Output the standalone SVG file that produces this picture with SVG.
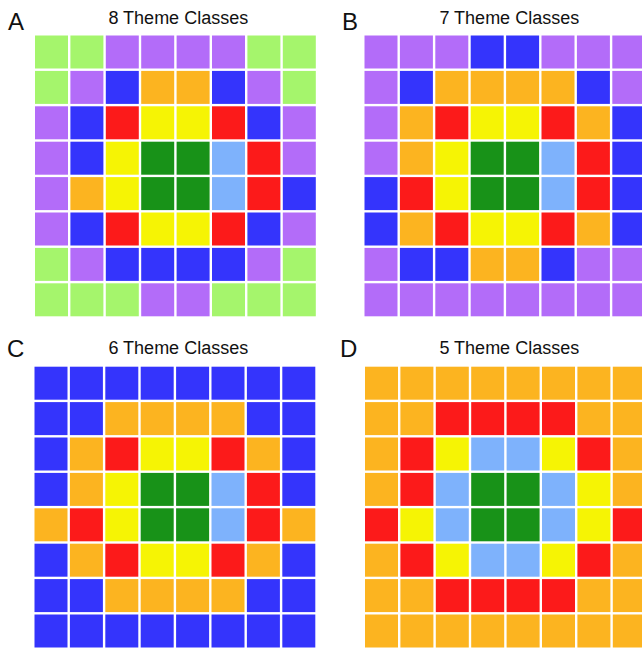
<svg xmlns="http://www.w3.org/2000/svg" width="642" height="648" viewBox="0 0 642 648">
<style>
.g{fill:#a5f56c}.p{fill:#b36cf9}.b{fill:#3434fc}.o{fill:#fcb420}.r{fill:#fc1a1a}.y{fill:#f6f404}.d{fill:#189218}.l{fill:#7eb2fc}
.lbl{font-family:"Liberation Sans",Arial,sans-serif;font-size:24px;fill:#111}
.ttl{font-family:"Liberation Sans",Arial,sans-serif;font-size:18px;fill:#111;text-anchor:middle}
</style>
<rect width="642" height="648" fill="#fff"/>
<g id="panelA">
<text class="lbl" x="8" y="30">A</text>
<text class="ttl" x="178.3" y="23.5">8 Theme Classes</text>
<g transform="translate(35,35.5)">
<rect class="g" x="0" y="0" width="33" height="33"/><rect class="g" x="35.4" y="0" width="33" height="33"/><rect class="p" x="70.8" y="0" width="33" height="33"/><rect class="p" x="106.2" y="0" width="33" height="33"/><rect class="p" x="141.6" y="0" width="33" height="33"/><rect class="p" x="177" y="0" width="33" height="33"/><rect class="g" x="212.4" y="0" width="33" height="33"/><rect class="g" x="247.8" y="0" width="33" height="33"/>
<rect class="g" x="0" y="35.4" width="33" height="33"/><rect class="p" x="35.4" y="35.4" width="33" height="33"/><rect class="b" x="70.8" y="35.4" width="33" height="33"/><rect class="o" x="106.2" y="35.4" width="33" height="33"/><rect class="o" x="141.6" y="35.4" width="33" height="33"/><rect class="b" x="177" y="35.4" width="33" height="33"/><rect class="p" x="212.4" y="35.4" width="33" height="33"/><rect class="g" x="247.8" y="35.4" width="33" height="33"/>
<rect class="p" x="0" y="70.8" width="33" height="33"/><rect class="b" x="35.4" y="70.8" width="33" height="33"/><rect class="r" x="70.8" y="70.8" width="33" height="33"/><rect class="y" x="106.2" y="70.8" width="33" height="33"/><rect class="y" x="141.6" y="70.8" width="33" height="33"/><rect class="r" x="177" y="70.8" width="33" height="33"/><rect class="b" x="212.4" y="70.8" width="33" height="33"/><rect class="p" x="247.8" y="70.8" width="33" height="33"/>
<rect class="p" x="0" y="106.2" width="33" height="33"/><rect class="b" x="35.4" y="106.2" width="33" height="33"/><rect class="y" x="70.8" y="106.2" width="33" height="33"/><rect class="d" x="106.2" y="106.2" width="33" height="33"/><rect class="d" x="141.6" y="106.2" width="33" height="33"/><rect class="l" x="177" y="106.2" width="33" height="33"/><rect class="r" x="212.4" y="106.2" width="33" height="33"/><rect class="p" x="247.8" y="106.2" width="33" height="33"/>
<rect class="p" x="0" y="141.6" width="33" height="33"/><rect class="o" x="35.4" y="141.6" width="33" height="33"/><rect class="y" x="70.8" y="141.6" width="33" height="33"/><rect class="d" x="106.2" y="141.6" width="33" height="33"/><rect class="d" x="141.6" y="141.6" width="33" height="33"/><rect class="l" x="177" y="141.6" width="33" height="33"/><rect class="r" x="212.4" y="141.6" width="33" height="33"/><rect class="b" x="247.8" y="141.6" width="33" height="33"/>
<rect class="p" x="0" y="177" width="33" height="33"/><rect class="b" x="35.4" y="177" width="33" height="33"/><rect class="r" x="70.8" y="177" width="33" height="33"/><rect class="y" x="106.2" y="177" width="33" height="33"/><rect class="y" x="141.6" y="177" width="33" height="33"/><rect class="r" x="177" y="177" width="33" height="33"/><rect class="b" x="212.4" y="177" width="33" height="33"/><rect class="p" x="247.8" y="177" width="33" height="33"/>
<rect class="g" x="0" y="212.4" width="33" height="33"/><rect class="p" x="35.4" y="212.4" width="33" height="33"/><rect class="b" x="70.8" y="212.4" width="33" height="33"/><rect class="b" x="106.2" y="212.4" width="33" height="33"/><rect class="b" x="141.6" y="212.4" width="33" height="33"/><rect class="b" x="177" y="212.4" width="33" height="33"/><rect class="p" x="212.4" y="212.4" width="33" height="33"/><rect class="g" x="247.8" y="212.4" width="33" height="33"/>
<rect class="g" x="0" y="247.8" width="33" height="33"/><rect class="g" x="35.4" y="247.8" width="33" height="33"/><rect class="g" x="70.8" y="247.8" width="33" height="33"/><rect class="p" x="106.2" y="247.8" width="33" height="33"/><rect class="p" x="141.6" y="247.8" width="33" height="33"/><rect class="g" x="177" y="247.8" width="33" height="33"/><rect class="g" x="212.4" y="247.8" width="33" height="33"/><rect class="g" x="247.8" y="247.8" width="33" height="33"/>
</g>
</g>
<g id="panelB">
<text class="lbl" x="342" y="30">B</text>
<text class="ttl" x="509.3" y="23.5">7 Theme Classes</text>
<g transform="translate(364.5,35.5)">
<rect class="p" x="0" y="0" width="33" height="33"/><rect class="p" x="35.4" y="0" width="33" height="33"/><rect class="p" x="70.8" y="0" width="33" height="33"/><rect class="b" x="106.2" y="0" width="33" height="33"/><rect class="b" x="141.6" y="0" width="33" height="33"/><rect class="p" x="177" y="0" width="33" height="33"/><rect class="p" x="212.4" y="0" width="33" height="33"/><rect class="p" x="247.8" y="0" width="33" height="33"/>
<rect class="p" x="0" y="35.4" width="33" height="33"/><rect class="b" x="35.4" y="35.4" width="33" height="33"/><rect class="o" x="70.8" y="35.4" width="33" height="33"/><rect class="o" x="106.2" y="35.4" width="33" height="33"/><rect class="o" x="141.6" y="35.4" width="33" height="33"/><rect class="o" x="177" y="35.4" width="33" height="33"/><rect class="b" x="212.4" y="35.4" width="33" height="33"/><rect class="p" x="247.8" y="35.4" width="33" height="33"/>
<rect class="p" x="0" y="70.8" width="33" height="33"/><rect class="o" x="35.4" y="70.8" width="33" height="33"/><rect class="r" x="70.8" y="70.8" width="33" height="33"/><rect class="y" x="106.2" y="70.8" width="33" height="33"/><rect class="y" x="141.6" y="70.8" width="33" height="33"/><rect class="r" x="177" y="70.8" width="33" height="33"/><rect class="o" x="212.4" y="70.8" width="33" height="33"/><rect class="b" x="247.8" y="70.8" width="33" height="33"/>
<rect class="p" x="0" y="106.2" width="33" height="33"/><rect class="o" x="35.4" y="106.2" width="33" height="33"/><rect class="y" x="70.8" y="106.2" width="33" height="33"/><rect class="d" x="106.2" y="106.2" width="33" height="33"/><rect class="d" x="141.6" y="106.2" width="33" height="33"/><rect class="l" x="177" y="106.2" width="33" height="33"/><rect class="r" x="212.4" y="106.2" width="33" height="33"/><rect class="b" x="247.8" y="106.2" width="33" height="33"/>
<rect class="b" x="0" y="141.6" width="33" height="33"/><rect class="r" x="35.4" y="141.6" width="33" height="33"/><rect class="y" x="70.8" y="141.6" width="33" height="33"/><rect class="d" x="106.2" y="141.6" width="33" height="33"/><rect class="d" x="141.6" y="141.6" width="33" height="33"/><rect class="l" x="177" y="141.6" width="33" height="33"/><rect class="r" x="212.4" y="141.6" width="33" height="33"/><rect class="b" x="247.8" y="141.6" width="33" height="33"/>
<rect class="b" x="0" y="177" width="33" height="33"/><rect class="o" x="35.4" y="177" width="33" height="33"/><rect class="r" x="70.8" y="177" width="33" height="33"/><rect class="y" x="106.2" y="177" width="33" height="33"/><rect class="y" x="141.6" y="177" width="33" height="33"/><rect class="r" x="177" y="177" width="33" height="33"/><rect class="o" x="212.4" y="177" width="33" height="33"/><rect class="b" x="247.8" y="177" width="33" height="33"/>
<rect class="p" x="0" y="212.4" width="33" height="33"/><rect class="b" x="35.4" y="212.4" width="33" height="33"/><rect class="b" x="70.8" y="212.4" width="33" height="33"/><rect class="o" x="106.2" y="212.4" width="33" height="33"/><rect class="o" x="141.6" y="212.4" width="33" height="33"/><rect class="b" x="177" y="212.4" width="33" height="33"/><rect class="p" x="212.4" y="212.4" width="33" height="33"/><rect class="p" x="247.8" y="212.4" width="33" height="33"/>
<rect class="p" x="0" y="247.8" width="33" height="33"/><rect class="p" x="35.4" y="247.8" width="33" height="33"/><rect class="p" x="70.8" y="247.8" width="33" height="33"/><rect class="p" x="106.2" y="247.8" width="33" height="33"/><rect class="p" x="141.6" y="247.8" width="33" height="33"/><rect class="p" x="177" y="247.8" width="33" height="33"/><rect class="p" x="212.4" y="247.8" width="33" height="33"/><rect class="p" x="247.8" y="247.8" width="33" height="33"/>
</g>
</g>
<g id="panelC">
<text class="lbl" x="7" y="357">C</text>
<text class="ttl" x="178.3" y="354">6 Theme Classes</text>
<g transform="translate(34.5,366.7)">
<rect class="b" x="0" y="0" width="33" height="33"/><rect class="b" x="35.4" y="0" width="33" height="33"/><rect class="b" x="70.8" y="0" width="33" height="33"/><rect class="b" x="106.2" y="0" width="33" height="33"/><rect class="b" x="141.6" y="0" width="33" height="33"/><rect class="b" x="177" y="0" width="33" height="33"/><rect class="b" x="212.4" y="0" width="33" height="33"/><rect class="b" x="247.8" y="0" width="33" height="33"/>
<rect class="b" x="0" y="35.4" width="33" height="33"/><rect class="b" x="35.4" y="35.4" width="33" height="33"/><rect class="o" x="70.8" y="35.4" width="33" height="33"/><rect class="o" x="106.2" y="35.4" width="33" height="33"/><rect class="o" x="141.6" y="35.4" width="33" height="33"/><rect class="o" x="177" y="35.4" width="33" height="33"/><rect class="b" x="212.4" y="35.4" width="33" height="33"/><rect class="b" x="247.8" y="35.4" width="33" height="33"/>
<rect class="b" x="0" y="70.8" width="33" height="33"/><rect class="o" x="35.4" y="70.8" width="33" height="33"/><rect class="r" x="70.8" y="70.8" width="33" height="33"/><rect class="y" x="106.2" y="70.8" width="33" height="33"/><rect class="y" x="141.6" y="70.8" width="33" height="33"/><rect class="r" x="177" y="70.8" width="33" height="33"/><rect class="o" x="212.4" y="70.8" width="33" height="33"/><rect class="b" x="247.8" y="70.8" width="33" height="33"/>
<rect class="b" x="0" y="106.2" width="33" height="33"/><rect class="o" x="35.4" y="106.2" width="33" height="33"/><rect class="y" x="70.8" y="106.2" width="33" height="33"/><rect class="d" x="106.2" y="106.2" width="33" height="33"/><rect class="d" x="141.6" y="106.2" width="33" height="33"/><rect class="l" x="177" y="106.2" width="33" height="33"/><rect class="r" x="212.4" y="106.2" width="33" height="33"/><rect class="b" x="247.8" y="106.2" width="33" height="33"/>
<rect class="o" x="0" y="141.6" width="33" height="33"/><rect class="r" x="35.4" y="141.6" width="33" height="33"/><rect class="y" x="70.8" y="141.6" width="33" height="33"/><rect class="d" x="106.2" y="141.6" width="33" height="33"/><rect class="d" x="141.6" y="141.6" width="33" height="33"/><rect class="l" x="177" y="141.6" width="33" height="33"/><rect class="r" x="212.4" y="141.6" width="33" height="33"/><rect class="o" x="247.8" y="141.6" width="33" height="33"/>
<rect class="b" x="0" y="177" width="33" height="33"/><rect class="o" x="35.4" y="177" width="33" height="33"/><rect class="r" x="70.8" y="177" width="33" height="33"/><rect class="y" x="106.2" y="177" width="33" height="33"/><rect class="y" x="141.6" y="177" width="33" height="33"/><rect class="r" x="177" y="177" width="33" height="33"/><rect class="o" x="212.4" y="177" width="33" height="33"/><rect class="b" x="247.8" y="177" width="33" height="33"/>
<rect class="b" x="0" y="212.4" width="33" height="33"/><rect class="b" x="35.4" y="212.4" width="33" height="33"/><rect class="o" x="70.8" y="212.4" width="33" height="33"/><rect class="o" x="106.2" y="212.4" width="33" height="33"/><rect class="o" x="141.6" y="212.4" width="33" height="33"/><rect class="o" x="177" y="212.4" width="33" height="33"/><rect class="b" x="212.4" y="212.4" width="33" height="33"/><rect class="b" x="247.8" y="212.4" width="33" height="33"/>
<rect class="b" x="0" y="247.8" width="33" height="33"/><rect class="b" x="35.4" y="247.8" width="33" height="33"/><rect class="b" x="70.8" y="247.8" width="33" height="33"/><rect class="b" x="106.2" y="247.8" width="33" height="33"/><rect class="b" x="141.6" y="247.8" width="33" height="33"/><rect class="b" x="177" y="247.8" width="33" height="33"/><rect class="b" x="212.4" y="247.8" width="33" height="33"/><rect class="b" x="247.8" y="247.8" width="33" height="33"/>
</g>
</g>
<g id="panelD">
<text class="lbl" x="340" y="357">D</text>
<text class="ttl" x="509.3" y="353.5">5 Theme Classes</text>
<g transform="translate(365,366.7)">
<rect class="o" x="0" y="0" width="33" height="33"/><rect class="o" x="35.4" y="0" width="33" height="33"/><rect class="o" x="70.8" y="0" width="33" height="33"/><rect class="o" x="106.2" y="0" width="33" height="33"/><rect class="o" x="141.6" y="0" width="33" height="33"/><rect class="o" x="177" y="0" width="33" height="33"/><rect class="o" x="212.4" y="0" width="33" height="33"/><rect class="o" x="247.8" y="0" width="33" height="33"/>
<rect class="o" x="0" y="35.4" width="33" height="33"/><rect class="o" x="35.4" y="35.4" width="33" height="33"/><rect class="r" x="70.8" y="35.4" width="33" height="33"/><rect class="r" x="106.2" y="35.4" width="33" height="33"/><rect class="r" x="141.6" y="35.4" width="33" height="33"/><rect class="r" x="177" y="35.4" width="33" height="33"/><rect class="o" x="212.4" y="35.4" width="33" height="33"/><rect class="o" x="247.8" y="35.4" width="33" height="33"/>
<rect class="o" x="0" y="70.8" width="33" height="33"/><rect class="r" x="35.4" y="70.8" width="33" height="33"/><rect class="y" x="70.8" y="70.8" width="33" height="33"/><rect class="l" x="106.2" y="70.8" width="33" height="33"/><rect class="l" x="141.6" y="70.8" width="33" height="33"/><rect class="y" x="177" y="70.8" width="33" height="33"/><rect class="r" x="212.4" y="70.8" width="33" height="33"/><rect class="o" x="247.8" y="70.8" width="33" height="33"/>
<rect class="o" x="0" y="106.2" width="33" height="33"/><rect class="r" x="35.4" y="106.2" width="33" height="33"/><rect class="l" x="70.8" y="106.2" width="33" height="33"/><rect class="d" x="106.2" y="106.2" width="33" height="33"/><rect class="d" x="141.6" y="106.2" width="33" height="33"/><rect class="l" x="177" y="106.2" width="33" height="33"/><rect class="y" x="212.4" y="106.2" width="33" height="33"/><rect class="o" x="247.8" y="106.2" width="33" height="33"/>
<rect class="r" x="0" y="141.6" width="33" height="33"/><rect class="y" x="35.4" y="141.6" width="33" height="33"/><rect class="l" x="70.8" y="141.6" width="33" height="33"/><rect class="d" x="106.2" y="141.6" width="33" height="33"/><rect class="d" x="141.6" y="141.6" width="33" height="33"/><rect class="l" x="177" y="141.6" width="33" height="33"/><rect class="y" x="212.4" y="141.6" width="33" height="33"/><rect class="r" x="247.8" y="141.6" width="33" height="33"/>
<rect class="o" x="0" y="177" width="33" height="33"/><rect class="r" x="35.4" y="177" width="33" height="33"/><rect class="y" x="70.8" y="177" width="33" height="33"/><rect class="l" x="106.2" y="177" width="33" height="33"/><rect class="l" x="141.6" y="177" width="33" height="33"/><rect class="y" x="177" y="177" width="33" height="33"/><rect class="r" x="212.4" y="177" width="33" height="33"/><rect class="o" x="247.8" y="177" width="33" height="33"/>
<rect class="o" x="0" y="212.4" width="33" height="33"/><rect class="o" x="35.4" y="212.4" width="33" height="33"/><rect class="r" x="70.8" y="212.4" width="33" height="33"/><rect class="r" x="106.2" y="212.4" width="33" height="33"/><rect class="r" x="141.6" y="212.4" width="33" height="33"/><rect class="r" x="177" y="212.4" width="33" height="33"/><rect class="o" x="212.4" y="212.4" width="33" height="33"/><rect class="o" x="247.8" y="212.4" width="33" height="33"/>
<rect class="o" x="0" y="247.8" width="33" height="33"/><rect class="o" x="35.4" y="247.8" width="33" height="33"/><rect class="o" x="70.8" y="247.8" width="33" height="33"/><rect class="o" x="106.2" y="247.8" width="33" height="33"/><rect class="o" x="141.6" y="247.8" width="33" height="33"/><rect class="o" x="177" y="247.8" width="33" height="33"/><rect class="o" x="212.4" y="247.8" width="33" height="33"/><rect class="o" x="247.8" y="247.8" width="33" height="33"/>
</g>
</g>
</svg>
